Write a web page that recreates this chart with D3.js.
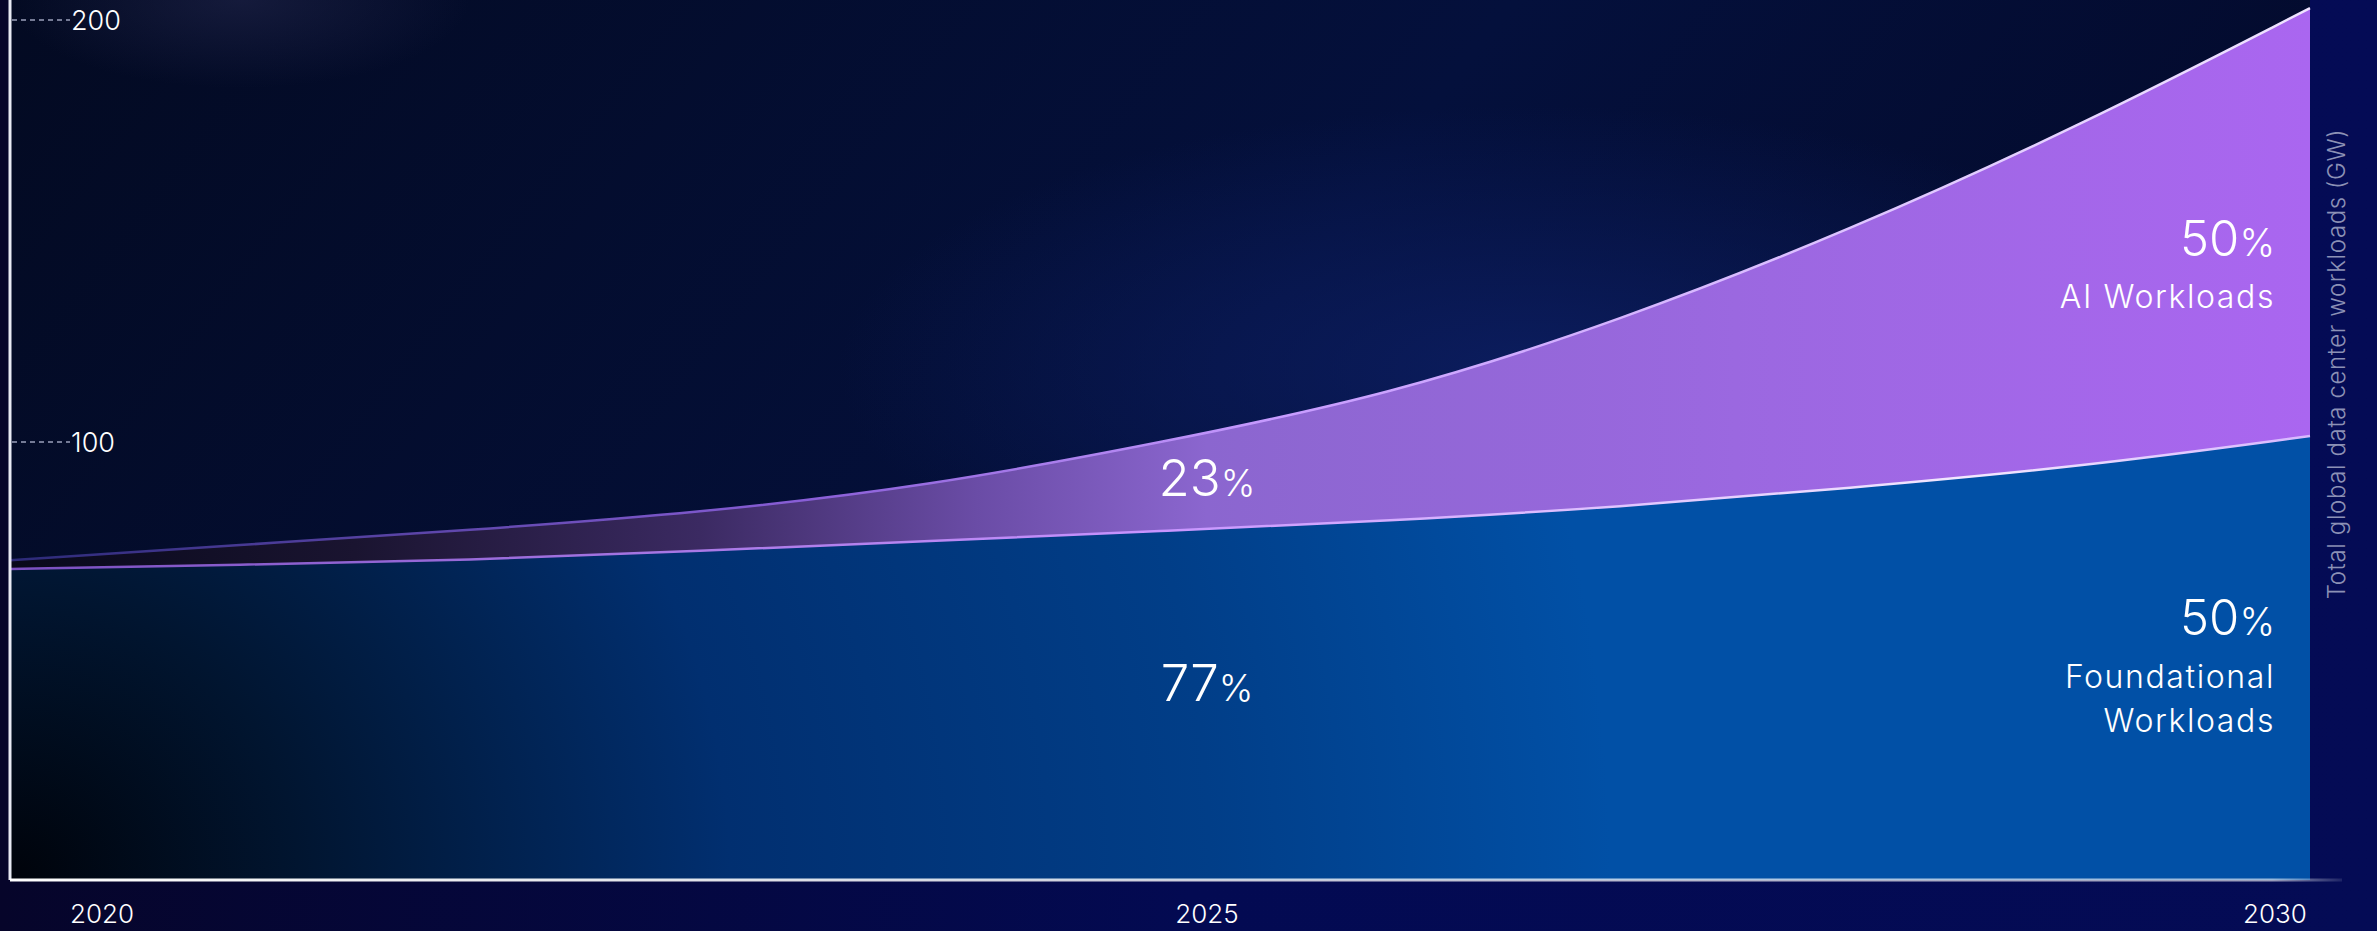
<!DOCTYPE html>
<html>
<head>
<meta charset="utf-8">
<script src="https://cdn.jsdelivr.net/npm/d3@7"></script>
<style>
  html, body { margin: 0; padding: 0; background: #03073f; overflow: hidden; }
  svg { display: block; font-family: "Inter", "Noto Sans", sans-serif; font-weight: 300; }
</style>
</head>
<body>
<svg id="graph" width="2377" height="931"></svg>
<script>
// datos (GW)
var years = [2020, 2021, 2022, 2023, 2024, 2025, 2026, 2027, 2028, 2029, 2030];
var foundational = [69.9, 70.9, 72.0, 74.2, 76.5, 78.9, 81.3, 84.6, 89.1, 94.1, 101.4];
var aiWorkloads = [2.1, 4.7, 7.1, 9.0, 13.1, 20.9, 29.8, 44.1, 61.1, 80.8, 101.4];
var yTicks = [100, 200];
var xTickYears = [2020, 2025, 2030];
var axisTitle = "Total global data center workloads (GW)";

function creaGrafica() {
    let svg = d3.select("#graph");
    var W = +svg.attr("width"), H = +svg.attr("height");
    var margin = { top: 0, right: 67, bottom: 51, left: 10 };
    var width = W - margin.left - margin.right;
    var height = H - margin.top - margin.bottom;

    var defs = svg.append("defs");

    // fondo exterior
    var bgOut = defs.append("linearGradient").attr("id", "bgOut").attr("x1", 0).attr("x2", 1).attr("y1", 0).attr("y2", 0);
    bgOut.append("stop").attr("offset", 0).attr("stop-color", "#06052a");
    bgOut.append("stop").attr("offset", 0.5).attr("stop-color", "#030a52");
    bgOut.append("stop").attr("offset", 1).attr("stop-color", "#040b55");
    svg.append("rect").attr("width", W).attr("height", H).attr("fill", "url(#bgOut)");

    // fondo del area de grafica
    var bgIn = defs.append("linearGradient").attr("id", "bgIn").attr("x1", 0).attr("x2", 1).attr("y1", 0).attr("y2", 0.3);
    bgIn.append("stop").attr("offset", 0).attr("stop-color", "#030a22");
    bgIn.append("stop").attr("offset", 0.6).attr("stop-color", "#04103c");
    bgIn.append("stop").attr("offset", 1).attr("stop-color", "#030a2c");
    var glow = defs.append("radialGradient").attr("id", "glow").attr("cx", 0.66).attr("cy", 0.42).attr("r", 0.3);
    glow.append("stop").attr("offset", 0).attr("stop-color", "#0c1e62").attr("stop-opacity", 0.9);
    glow.append("stop").attr("offset", 1).attr("stop-color", "#0c1e62").attr("stop-opacity", 0);
    var glow2 = defs.append("radialGradient").attr("id", "glow2").attr("cx", 0.1).attr("cy", 0.0).attr("r", 0.1);
    glow2.append("stop").attr("offset", 0).attr("stop-color", "#2a2d55").attr("stop-opacity", 0.45);
    glow2.append("stop").attr("offset", 1).attr("stop-color", "#2a2d55").attr("stop-opacity", 0);

    var g = svg.append("g").attr("transform", "translate(" + margin.left + "," + margin.top + ")");
    g.append("rect").attr("width", width).attr("height", height).attr("fill", "url(#bgIn)");
    g.append("rect").attr("width", width).attr("height", height).attr("fill", "url(#glow)");
    g.append("rect").attr("width", width).attr("height", height).attr("fill", "url(#glow2)");

    // escalas
    var x = d3.scaleLinear().domain([2020, 2030]).range([0, width]);
    var y = d3.scaleLinear().domain([0, 200]).range([height - 16, 20]);
    var xLabel = d3.scaleLinear().domain([2020, 2025, 2030]).range([92, 1197, 2265]);

    var table = years.map((yr, i) => ({ year: yr, foundational: foundational[i], ai: aiWorkloads[i] }));
    var series = d3.stack().keys(["foundational", "ai"])(table);

    // gradientes de las areas
    var gFound = defs.append("radialGradient").attr("id", "gFound").attr("gradientUnits", "userSpaceOnUse")
        .attr("cx", 0).attr("cy", height).attr("r", 1600);
    gFound.append("stop").attr("offset", 0).attr("stop-color", "#00030a");
    gFound.append("stop").attr("offset", 0.18).attr("stop-color", "#011530");
    gFound.append("stop").attr("offset", 0.45).attr("stop-color", "#012f70");
    gFound.append("stop").attr("offset", 0.75).attr("stop-color", "#013e88");
    gFound.append("stop").attr("offset", 1).attr("stop-color", "#0150a6");

    var gAI = defs.append("linearGradient").attr("id", "gAI").attr("gradientUnits", "userSpaceOnUse")
        .attr("x1", 0).attr("y1", 0).attr("x2", width).attr("y2", 0);
    gAI.append("stop").attr("offset", 0).attr("stop-color", "#07081a");
    gAI.append("stop").attr("offset", 0.15).attr("stop-color", "#1a1430");
    gAI.append("stop").attr("offset", 0.3).attr("stop-color", "#3b2a62");
    gAI.append("stop").attr("offset", 0.42).attr("stop-color", "#6a4ca6");
    gAI.append("stop").attr("offset", 0.52).attr("stop-color", "#8b66cf");
    gAI.append("stop").attr("offset", 0.75).attr("stop-color", "#9b68e0");
    gAI.append("stop").attr("offset", 1).attr("stop-color", "#aa66f0");

    var sTop = defs.append("linearGradient").attr("id", "sTop").attr("gradientUnits", "userSpaceOnUse")
        .attr("x1", 0).attr("y1", 0).attr("x2", width).attr("y2", 0);
    sTop.append("stop").attr("offset", 0).attr("stop-color", "#2c2a78");
    sTop.append("stop").attr("offset", 0.35).attr("stop-color", "#8a5fd8");
    sTop.append("stop").attr("offset", 0.55).attr("stop-color", "#c79bff");
    sTop.append("stop").attr("offset", 1).attr("stop-color", "#efe4ff");

    var sMid = defs.append("linearGradient").attr("id", "sMid").attr("gradientUnits", "userSpaceOnUse")
        .attr("x1", 0).attr("y1", 0).attr("x2", width).attr("y2", 0);
    sMid.append("stop").attr("offset", 0).attr("stop-color", "#7a4fc0");
    sMid.append("stop").attr("offset", 0.5).attr("stop-color", "#c894ff");
    sMid.append("stop").attr("offset", 0.85).attr("stop-color", "#f2e8ff");
    sMid.append("stop").attr("offset", 1).attr("stop-color", "#d7b8ff");

    var area = d3.area()
        .curve(d3.curveBasis)
        .x(d => x(d.data.year))
        .y0(d => d[0] === 0 ? height : y(d[0]))
        .y1(d => y(d[1]));

    g.append("g").selectAll("path")
        .data(series)
        .enter()
        .append("path")
        .attr("d", area)
        .attr("fill", (d, i) => i === 0 ? "url(#gFound)" : "url(#gAI)");

    var line = d3.line().curve(d3.curveBasis).x(d => x(d.data.year)).y(d => y(d[1]));
    g.append("path").datum(series[0]).attr("d", line)
        .attr("fill", "none").attr("stroke", "url(#sMid)").attr("stroke-width", 2.5);
    g.append("path").datum(series[1]).attr("d", line)
        .attr("fill", "none").attr("stroke", "url(#sTop)").attr("stroke-width", 2.5);

    // eje y
    g.append("line").attr("x1", 0).attr("x2", 0).attr("y1", 0).attr("y2", height)
        .attr("stroke", "#e8eaf4").attr("stroke-width", 3);
    var yt = g.append("g").selectAll("g").data(yTicks).enter().append("g")
        .attr("transform", d => "translate(0," + y(d) + ")");
    yt.append("line").attr("x1", 2).attr("x2", 60)
        .attr("stroke", "#9aa0bb").attr("stroke-width", 1.5).attr("stroke-dasharray", "5,4");
    yt.append("text").attr("x", 61).attr("dy", "0.36em")
        .attr("fill", "#ffffff").attr("font-size", 27).text(d => d);

    // eje x
    var axGrad = defs.append("linearGradient").attr("id", "axGrad").attr("gradientUnits", "userSpaceOnUse")
        .attr("x1", 0).attr("y1", 0).attr("x2", width + 32).attr("y2", 0);
    axGrad.append("stop").attr("offset", 0).attr("stop-color", "#ffffff");
    axGrad.append("stop").attr("offset", 0.97).attr("stop-color", "#ffffff").attr("stop-opacity", 0.6);
    axGrad.append("stop").attr("offset", 1).attr("stop-color", "#ffffff").attr("stop-opacity", 0.1);
    g.append("line").attr("x1", 0).attr("x2", width + 32).attr("y1", height).attr("y2", height)
        .attr("stroke", "url(#axGrad)").attr("stroke-width", 3);

    g.append("g").selectAll("text").data(xTickYears).enter().append("text")
        .attr("x", d => xLabel(d)).attr("y", height + 43)
        .attr("text-anchor", "middle").attr("fill", "#ffffff").attr("font-size", 26)
        .text(d => d);

    // titulo del eje a la derecha
    g.append("text")
        .attr("transform", "translate(" + (width + 35) + "," + 364 + ") rotate(-90)")
        .attr("text-anchor", "middle").attr("fill", "#8c91b5").attr("font-size", 24)
        .attr("letter-spacing", 0.6)
        .text(axisTitle);

    // etiquetas de porcentaje
    function pct(sel, num, big, small) {
        sel.append("tspan").attr("font-size", big).text(num);
        sel.append("tspan").attr("font-size", small).text("%");
    }
    var last = series[0].length - 1;
    var labelX = xLabel(2030);
    var midX = xLabel(2025);

    var t23 = g.append("text").attr("x", midX).attr("y", y(series[1][5][1]) + 53)
        .attr("text-anchor", "middle").attr("fill", "#fff");
    pct(t23, "23", 51, 37);
    var t77 = g.append("text").attr("x", midX).attr("y", y(40) + 6)
        .attr("text-anchor", "middle").attr("fill", "#fff");
    pct(t77, "77", 51, 37);

    var tAI = g.append("text").attr("x", labelX).attr("y", y(series[1][last][1]) + 248)
        .attr("text-anchor", "end").attr("fill", "#fff");
    pct(tAI, "50", 49, 38);
    g.append("text").attr("x", labelX).attr("y", y(series[1][last][1]) + 300)
        .attr("text-anchor", "end").attr("fill", "#fff").attr("font-size", 32)
        .attr("letter-spacing", 1.6).text("AI Workloads");

    var tF = g.append("text").attr("x", labelX).attr("y", y(series[0][last][1]) + 199)
        .attr("text-anchor", "end").attr("fill", "#fff");
    pct(tF, "50", 49, 38);
    g.append("text").attr("x", labelX).attr("y", y(series[0][last][1]) + 252)
        .attr("text-anchor", "end").attr("fill", "#fff").attr("font-size", 32)
        .attr("letter-spacing", 1.6).text("Foundational");
    g.append("text").attr("x", labelX).attr("y", y(series[0][last][1]) + 296)
        .attr("text-anchor", "end").attr("fill", "#fff").attr("font-size", 32)
        .attr("letter-spacing", 1.6).text("Workloads");
}

creaGrafica();
</script>
</body>
</html>
